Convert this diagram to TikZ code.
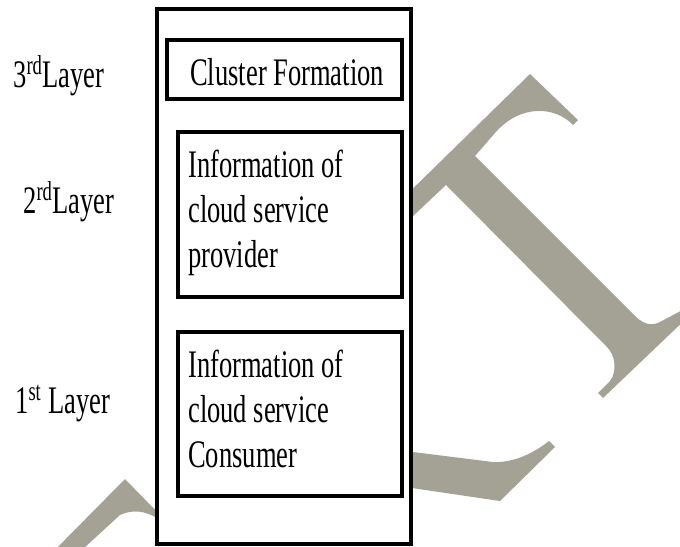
\documentclass[tikz,border=0pt]{standalone}
\usepackage{fontspec}
\newfontfamily\layerfont[FakeStretch=0.68]{Liberation Serif}
\definecolor{markgray}{RGB}{163,162,148}
\begin{document}
\begin{tikzpicture}[x=0.75pt,y=-0.75pt,
  txt/.style={inner sep=0pt, anchor=base west, align=left,
    font=\layerfont\fontsize{29.25pt}{33.4pt}\selectfont},
  outerbox/.style={draw=black, fill=white, line width=2.4pt, inner sep=0pt},
  layerbox/.style={draw=black, fill=white, line width=3.4pt, inner sep=0pt},
  greyshape/.style={fill=markgray, draw=none}]
\useasboundingbox (0,0) rectangle (680,546);
\begin{scope}
\clip (0,0) rectangle (680,546);
% large grey letter shapes in the background
\path[greyshape] (395,206) -- (530,74) -- (578,120) -- (573,125)
  .. controls (555,106) and (520,104) .. (495,133) -- (475,156)
  -- (634,315) .. controls (642,323) and (650,327) .. (660,322)
  -- (690,306) -- (690,315) -- (603,398) -- (598,393) -- (610,381)
  .. controls (617,372) and (616,355) .. (606,346)
  -- (446,185) -- (395,233) -- cycle;
\path[greyshape] (45,560) -- (125,479) -- (165,520) -- (405,451) -- (493,462)
  .. controls (515,463) and (535,452) .. (549,441) -- (555,447)
  -- (500,501) -- (405,487) -- (165,522) -- (157,518)
  .. controls (145,511) and (133,509) .. (120,515) -- (71,560) -- cycle;
\end{scope}
% boxes
\node[outerbox, minimum width=190.5pt, minimum height=401.25pt] (stack) at (284,276.5) {};
\node[layerbox, minimum width=176.25pt, minimum height=44.25pt] (cluster) at (284.5,69.5) {};
\node[layerbox, minimum width=168pt, minimum height=123.75pt] (provider) at (290,214.5) {};
\node[layerbox, minimum width=168pt, minimum height=123pt] (consumer) at (290,414) {};
% box texts (multi-line nodes are anchored at the baseline of their last line)
\node[txt] (clustertext) at (190,85) {Cluster Formation};
\node[txt] (providertext) at (188,267) {Information of\\cloud service\\provider};
\node[txt] (consumertext) at (188,467) {Information of\\cloud service\\Consumer};
% layer labels
\node[txt] (third) at (13,87) {3\textsuperscript{rd}Layer};
\node[txt] (second) at (23,213) {2\textsuperscript{rd}Layer};
\node[txt] (first) at (15,413) {1\textsuperscript{st} Layer};
\end{tikzpicture}
\end{document}
